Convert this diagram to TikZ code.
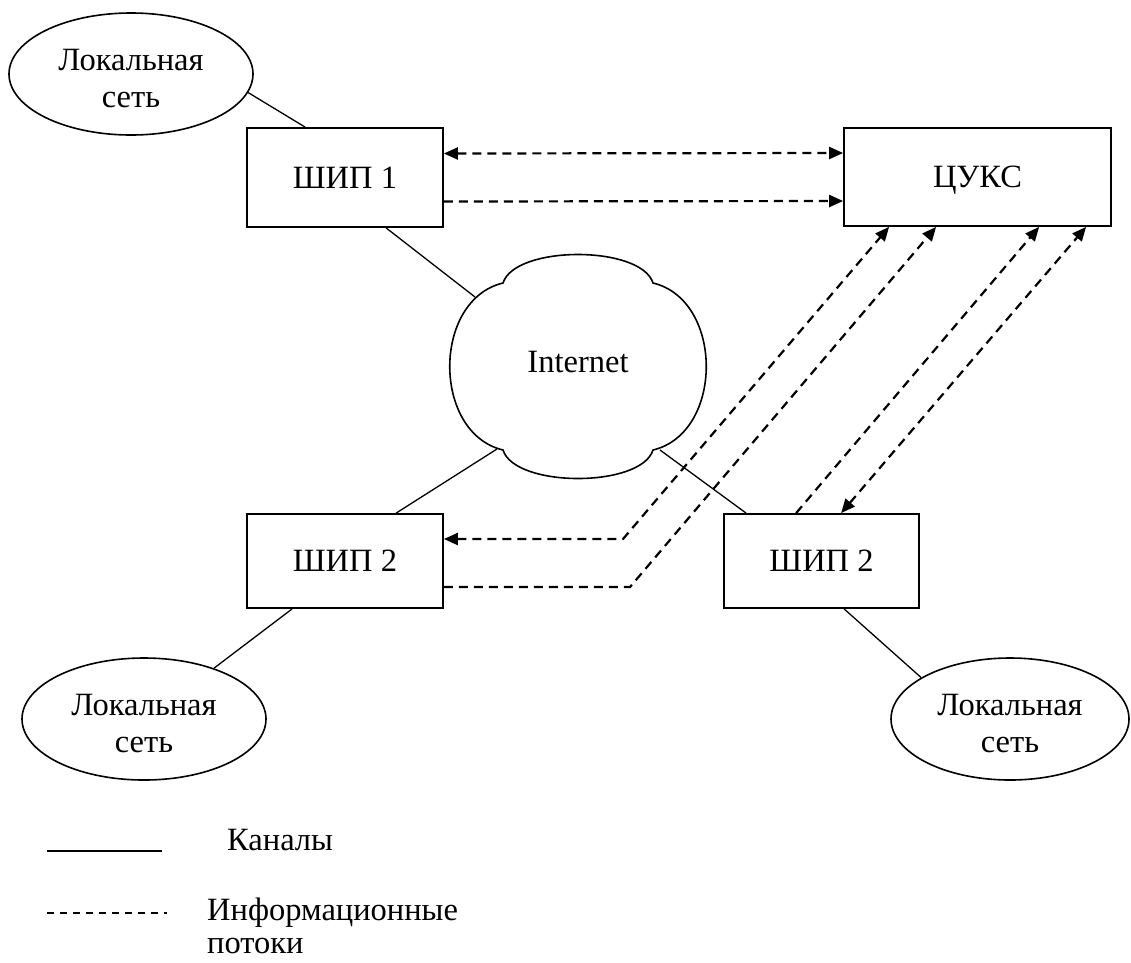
\documentclass[tikz,border=0pt]{standalone}
\usepackage{fontspec}
\setmainfont{Liberation Serif}
\usetikzlibrary{shapes.geometric,arrows.meta}
\newcommand{\lantop}{\rule{0pt}{30pt}}
\begin{document}
\begin{tikzpicture}[x=1pt,y=-1pt,
  every node/.style={font=\fontsize{32.5}{37}\selectfont},
  lan/.style={draw,ellipse,line width=1.6pt,minimum width=244pt,minimum height=122pt,inner sep=0pt,align=center},
  box/.style={draw,rectangle,line width=1.8pt,inner sep=0pt,text depth=0pt},
  chan/.style={line width=1.3pt},
  flow/.style={line width=2.2pt,dash pattern=on 9pt off 6pt},
  legflow/.style={line width=1.3pt,dash pattern=on 7pt off 6pt},
  tipend/.style={-{Triangle[length=14pt,width=12pt]}},
  tipboth/.style={{Triangle[length=14pt,width=12pt]}-{Triangle[length=14pt,width=12pt]}},
  cloudline/.style={line width=1.6pt}
]
\useasboundingbox (0,0) rectangle (1131,962);

% nodes
\node[lan] (lan1) at (131,74) {\lantop Локальная\\сеть};
\node[box,minimum width=196pt,minimum height=99pt] (ship1) at (345,177.5) {ШИП 1};
\node[box,minimum width=267pt,minimum height=98pt] (cuks) at (977.5,177) {ЦУКС};
\node[box,minimum width=196pt,minimum height=94pt] (ship2l) at (345,561) {ШИП 2};
\node[box,minimum width=195pt,minimum height=94pt] (ship2r) at (821.5,561) {ШИП 2};
\node[lan] (lan2) at (144,719) {\lantop Локальная\\сеть};
\node[lan,minimum width=238pt] (lan3) at (1010,719) {\lantop Локальная\\сеть};

% cloud
\draw[cloudline] (503,283) .. controls (515,245) and (641,245) .. (653,283)
  .. controls (724,300) and (724,433) .. (653,450)
  .. controls (641,488) and (515,488) .. (503,450)
  .. controls (432,433) and (432,300) .. cycle;
\node (inet) at (578,362) {Internet};
\coordinate (c1) at (475,297);
\coordinate (c2) at (497,449);
\coordinate (c3) at (660,450);

% channels
\draw[chan] (lan1.-9) -- ([xshift=59pt]ship1.north west);
\draw[chan] ([xshift=140pt]ship1.south west) -- (c1);
\draw[chan] (c2) -- ([xshift=150pt]ship2l.north west);
\draw[chan] (c3) -- ([xshift=23pt]ship2r.north west);
\draw[chan] ([xshift=46pt]ship2l.south west) -- (lan2.36.5);
\draw[chan] ([xshift=121pt]ship2r.south west) -- (lan3.155);

% information flows
\draw[flow,tipboth] ([yshift=24pt]ship1.east) -- ([yshift=24pt]cuks.west);
\draw[flow,tipend] ([yshift=-24pt]ship1.east) -- ([yshift=-24pt]cuks.west);
\coordinate (bA) at (623,539);
\coordinate (bB) at (630,587);
\draw[flow,tipboth] ([yshift=22pt]ship2l.east) -- (bA) -- ([xshift=46pt]cuks.south west);
\draw[flow,tipend] ([yshift=-26pt]ship2l.east) -- (bB) -- ([xshift=93pt]cuks.south west);
\draw[flow,tipend] ([xshift=73pt]ship2r.north west) -- ([xshift=196pt]cuks.south west);
\draw[flow,tipboth] ([xshift=118pt]ship2r.north west) -- ([xshift=243pt]cuks.south west);

% legend
\coordinate (l1a) at (47,851);
\coordinate (l1b) at (162,851);
\coordinate (l2a) at (47,913);
\coordinate (l2b) at (167,913);
\draw[chan] (l1a) -- (l1b);
\draw[legflow] (l2a) -- (l2b);
\node[anchor=base west,inner sep=0pt] (leg1) at (227,850) {Каналы};
\node[anchor=north west,inner sep=0pt,align=left,font=\fontsize{32.5}{33}\selectfont] (leg2) at (207,898) {Информационные\\потоки};
\end{tikzpicture}
\end{document}
